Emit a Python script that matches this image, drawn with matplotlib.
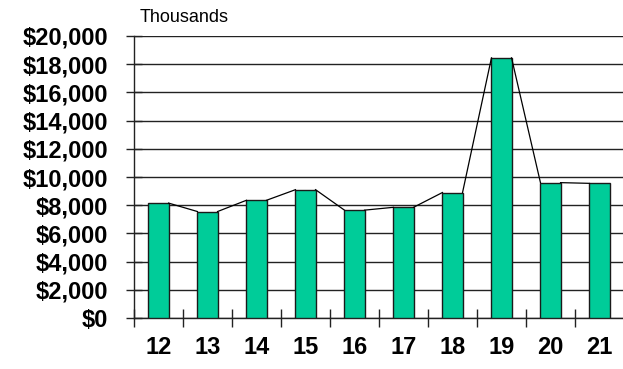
import matplotlib
matplotlib.use("Agg")
import matplotlib.pyplot as plt
from matplotlib.ticker import FixedLocator

categories = ["12", "13", "14", "15", "16", "17", "18", "19", "20", "21"]
values = [8150, 7550, 8350, 9100, 7650, 7850, 8900, 18450, 9600, 9550]
yticks = [0, 2000, 4000, 6000, 8000, 10000, 12000, 14000, 16000, 18000, 20000]
ytick_labels = ["${:,}".format(v) for v in yticks]

plt.rcParams['font.family'] = ['Liberation Sans', 'DejaVu Sans']

fig = plt.figure(figsize=(6.23, 3.69), dpi=100)
ax = fig.add_axes([134/623, 51/369, 490/623, 282/369])

x = list(range(len(categories)))
w = 0.41
ax.bar(x, values, width=w, color="#00CC99", edgecolor="#1a1a1a", linewidth=1.0, zorder=3)

# series lines connecting top corners
for i in range(len(values) - 1):
    ax.plot([x[i] + w/2, x[i+1] - w/2], [values[i], values[i+1]], color="black", lw=0.9, zorder=4)

ax.set_xlim(-0.5, len(categories) - 0.5)
ax.set_ylim(0, 20000)
ax.set_yticks(yticks)
ax.set_yticklabels(ytick_labels, fontsize=17, fontweight="bold")
ax.set_xticks(x)
ax.set_xticklabels(categories, fontsize=17, fontweight="bold")
ax.xaxis.set_minor_locator(FixedLocator([i - 0.5 for i in range(len(categories))]))
ax.tick_params(axis="x", which="major", length=0, pad=13)
ax.tick_params(axis="x", which="minor", direction="inout", length=12.5, width=1, color="#222222")
ax.tick_params(axis="y", which="major", direction="inout", length=11, width=1, color="#222222", pad=13)

ax.grid(axis="y", color="#222222", lw=1, zorder=0)
for s in ["top", "right"]:
    ax.spines[s].set_visible(False)
for s in ["left", "bottom"]:
    ax.spines[s].set_color("#222222")
    ax.spines[s].set_linewidth(1)
ax.set_axisbelow(True)

fig.text(140/623, 1 - 17/369, "Thousands", fontsize=13, va="center", ha="left")

fig.savefig("out.png", dpi=100)
